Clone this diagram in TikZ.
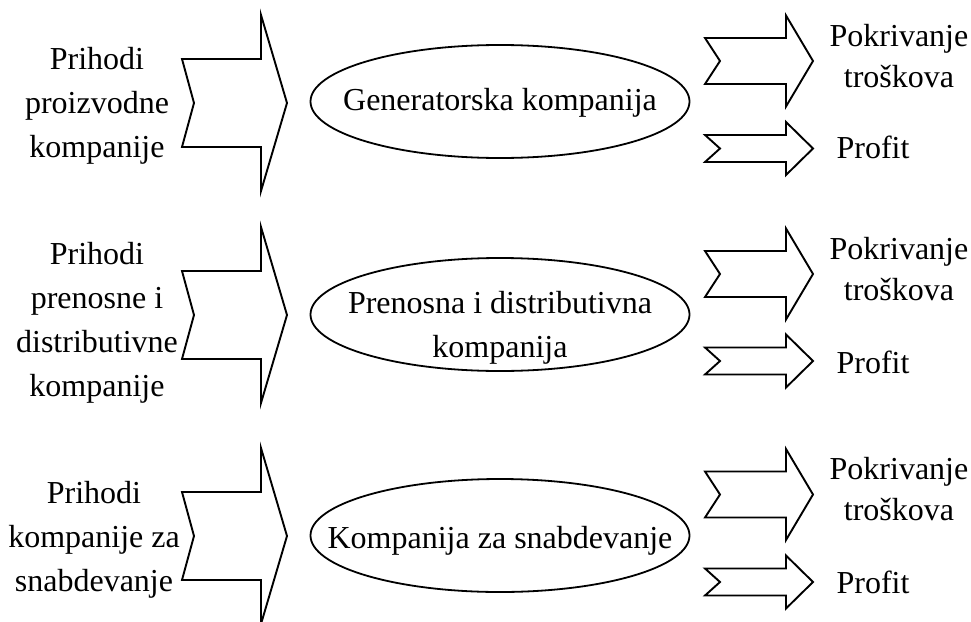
\documentclass[tikz,border=0pt]{standalone}
\usepackage{fontspec}
\setmainfont{Liberation Serif}
\usetikzlibrary{shapes.geometric}
\tikzset{
  shapeline/.style={draw=black, line width=1.9pt, line join=miter, fill=white},
  lbl/.style={inner sep=0pt, align=center, font=\fontsize{32}{44}\selectfont},
  rlbl/.style={inner sep=0pt, align=center, font=\fontsize{32}{41}\selectfont},
  oval/.style={ellipse, draw=black, line width=1.8pt, minimum width=379pt, minimum height=113pt, inner sep=0pt},
}
% chevron arrow: #1 left x, #2 notch x, #3 body right x, #4 tip x, #5 centre y, #6 half body, #7 half head
\newcommand{\chevron}[7]{%
  \draw[shapeline] (#1,#5-#6) -- (#3,#5-#6) -- (#3,#5-#7) -- (#4,#5) -- (#3,#5+#7) -- (#3,#5+#6) -- (#1,#5+#6) -- (#2,#5) -- cycle;}
\begin{document}
\begin{tikzpicture}[x=1pt, y=-1pt]
\useasboundingbox (0,0) rectangle (971,621);

% left big arrows
\chevron{182}{194}{261}{287}{103}{44}{88}
\chevron{182}{194}{261}{287}{315}{44}{88}
\chevron{182}{194}{261}{287}{536}{44}{88}

% right arrows
\chevron{705}{720}{786}{813}{61}{23}{45.5}
\chevron{705}{720}{786}{813}{148.5}{13.5}{26.5}
\chevron{705}{720}{786}{813}{274}{23}{45.5}
\chevron{705}{720}{786}{813}{361}{13.5}{26.5}
\chevron{705}{720}{786}{813}{494.5}{23}{45.5}
\chevron{705}{720}{786}{813}{582}{13.5}{26.5}

% ellipses
\node[oval] (e1) at (500,101.5) {};
\node[oval] (e2) at (500,314.5) {};
\node[oval] (e3) at (500,535.5) {};

\node[lbl, anchor=base] (e1t) at (500,110) {Generatorska kompanija};
\node[lbl] (e2t) at (500,327.6) {Prenosna i distributivna\\kompanija};
\node[lbl, anchor=base] (e3t) at (500,548) {Kompanija za snabdevanje};

% left labels
\node[lbl] (l1) at (97,105.6) {Prihodi\\proizvodne\\kompanije};
\node[lbl] (l2) at (97,322.7) {Prihodi\\prenosne i\\distributivne\\kompanije};
\node[lbl] (l3) at (94,540) {Prihodi\\kompanije za\\snabdevanje};

% right labels
\node[rlbl] (r1) at (899,56.5) {Pokrivanje\\troškova};
\node[rlbl] (r2) at (899,269.4) {Pokrivanje\\troškova};
\node[rlbl] (r3) at (899,489.4) {Pokrivanje\\troškova};
\node[lbl, anchor=base] (p1) at (873,158) {Profit};
\node[lbl, anchor=base] (p2) at (873,373) {Profit};
\node[lbl, anchor=base] (p3) at (873,593) {Profit};
\end{tikzpicture}
\end{document}
